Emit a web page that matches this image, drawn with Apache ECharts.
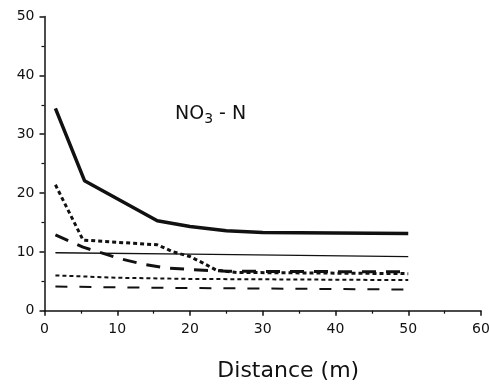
<!DOCTYPE html>
<html>
<head>
<meta charset="utf-8">
<script src="https://cdn.jsdelivr.net/npm/echarts@6/dist/echarts.min.js"></script>
<style>html,body{margin:0;padding:0;background:#fff;}#c{width:489px;height:385px;}</style>
</head>
<body>
<div id="c"></div>
<script>
const xTicks = [0, 10, 20, 30, 40, 50, 60];
const yTicks = [0, 10, 20, 30, 40, 50];
const x1 = [1.5, 5.5, 15.5, 20, 25, 30, 50];
const y1 = [34.4, 22.1, 15.3, 14.3, 13.6, 13.3, 13.1];
const x2 = [1.5, 20, 50];
const y2 = [9.85, 9.6, 9.2];
const x3 = [1.5, 5.3, 15.5, 17.7, 20, 21.8, 23.6, 26.4, 50];
const y3 = [21.4, 12.0, 11.2, 10.0, 9.2, 8.1, 6.9, 6.5, 6.3];
const x4 = [1.5, 5.3, 10.5, 13.6, 16.5, 20, 25, 50];
const y4 = [12.9, 10.8, 8.8, 7.9, 7.3, 7.0, 6.7, 6.6];
const x5 = [1.5, 10, 20, 50];
const y5 = [6.0, 5.6, 5.4, 5.2];
const x6 = [1.5, 15, 50];
const y6 = [4.1, 3.9, 3.6];

const pair = (xs, ys) => xs.map((x, i) => [x, ys[i]]);
const ink = '#111';
function line(xs, ys, width, type) {
  return {
    type: 'line', data: pair(xs, ys), showSymbol: false, symbol: 'none',
    lineStyle: { color: ink, width: width, type: type, cap: 'butt', join: 'round' },
    animation: false
  };
}
const font = 'DejaVu Sans';
const chart = echarts.init(document.getElementById('c'));
chart.setOption({
  animation: false,
  grid: { left: 44.5, right: 8, top: 16.5, bottom: 74.3, containLabel: false, outerBoundsMode: 'none' },
  xAxis: {
    type: 'value', min: xTicks[0], max: xTicks[xTicks.length - 1], interval: 10,
    name: 'Distance (m)', nameLocation: 'middle', nameGap: 50,
    nameTextStyle: { fontFamily: font, fontSize: 22, color: ink, padding: [0, 0, 0, 51] },
    axisLine: { lineStyle: { color: ink, width: 1.5 } },
    axisTick: { show: true, inside: false, length: 5, lineStyle: { color: ink, width: 1.5 } },
    minorTick: { show: true, splitNumber: 2, length: 3, lineStyle: { color: ink, width: 1.2 } },
    axisLabel: { fontFamily: font, fontSize: 14, color: ink, margin: 12 },
    splitLine: { show: false }
  },
  yAxis: {
    type: 'value', min: yTicks[0], max: yTicks[yTicks.length - 1], interval: 10,
    axisLine: { show: true, lineStyle: { color: ink, width: 1.5 } },
    axisTick: { show: true, inside: false, length: 5, lineStyle: { color: ink, width: 1.5 } },
    minorTick: { show: true, splitNumber: 2, length: 3, lineStyle: { color: ink, width: 1.2 } },
    axisLabel: { fontFamily: font, fontSize: 14, color: ink, margin: 10 },
    splitLine: { show: false }
  },
  graphic: [{
    type: 'text', left: 175, top: 105,
    style: {
      text: 'NO{sub|3} - N', fill: ink, fontFamily: font, fontSize: 19,
      rich: { sub: { fontFamily: font, fontSize: 14, verticalAlign: 'bottom', padding: [10, 0, 0, 0], fill: ink } }
    }
  }],
  series: [
    line(x1, y1, 3.5, 'solid'),
    line(x2, y2, 1.3, 'solid'),
    line(x3, y3, 3, [4, 3]),
    line(x4, y4, 3, [14, 10]),
    line(x5, y5, 2, [4, 3]),
    line(x6, y6, 2, [12, 12])
  ]
});
</script>
</body>
</html>
